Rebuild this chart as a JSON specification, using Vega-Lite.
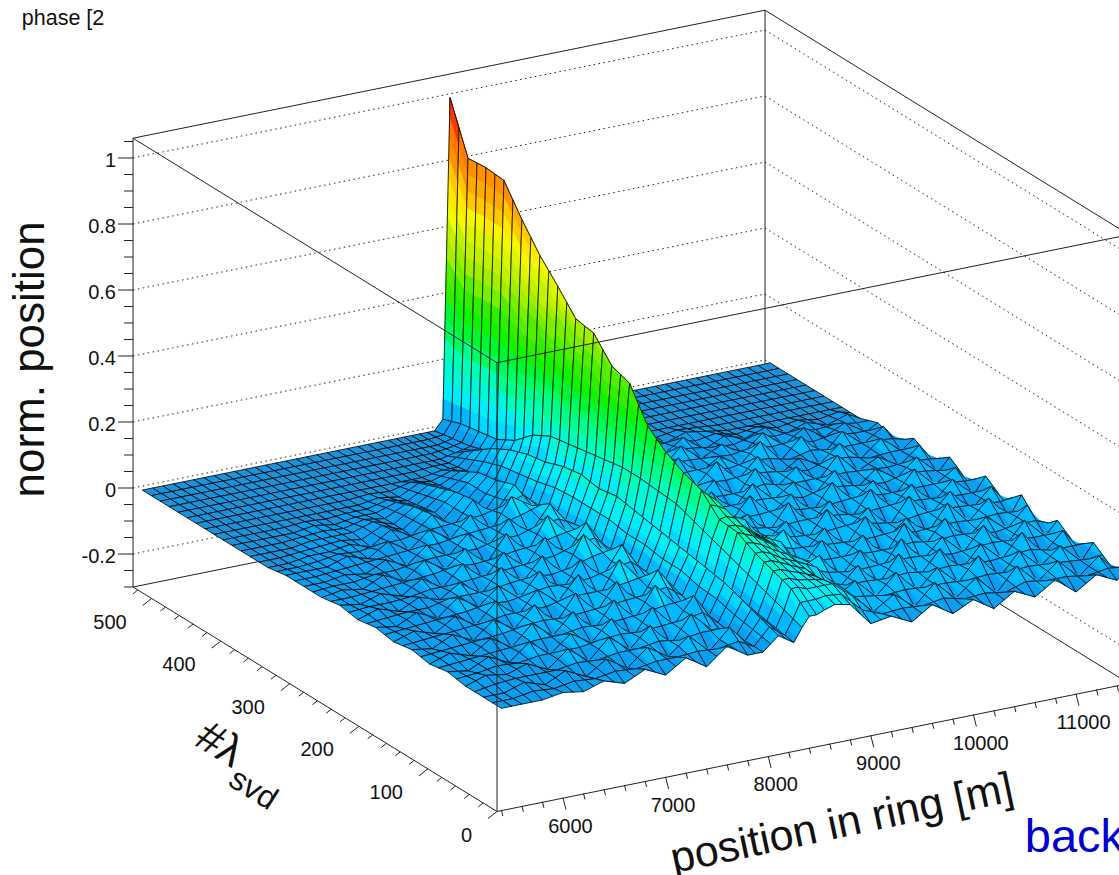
{"$schema":"https://vega.github.io/schema/vega-lite/v6.json","width":1119,"height":875,"padding":0,"autosize":{"type":"none"},"background":"white","config":{"view":{"stroke":null}},
"datasets":{
"grid":[
{"p":11520,"s":520,"z":0},{"p":11400,"s":520,"z":0},{"p":11200,"s":520,"z":0},{"p":11000,"s":520,"z":0},{"p":10800,"s":520,"z":0},{"p":10600,"s":520,"z":0},{"p":10400,"s":520,"z":0},{"p":10200,"s":520,"z":0},{"p":10000,"s":520,"z":0},{"p":9800,"s":520,"z":0},{"p":9600,"s":520,"z":0},{"p":9400,"s":520,"z":0},{"p":9200,"s":520,"z":0},{"p":9000,"s":520,"z":0},{"p":8800,"s":520,"z":0},{"p":8650,"s":520,"z":0},{"p":8550,"s":520,"z":0},{"p":8470,"s":520,"z":0.1},{"p":8400,"s":520,"z":1},{"p":8330,"s":520,"z":0.03},{"p":8250,"s":520,"z":0},{"p":8100,"s":520,"z":0},{"p":7950,"s":520,"z":0},{"p":7800,"s":520,"z":0},{"p":7600,"s":520,"z":0},{"p":7400,"s":520,"z":0},{"p":7200,"s":520,"z":0},{"p":7000,"s":520,"z":0},{"p":6800,"s":520,"z":0},{"p":6600,"s":520,"z":0},{"p":6400,"s":520,"z":0},{"p":6200,"s":520,"z":0},{"p":6000,"s":520,"z":0},{"p":5800,"s":520,"z":0},{"p":5600,"s":520,"z":0},{"p":5400,"s":520,"z":0},
{"p":11520,"s":494,"z":0},{"p":11400,"s":494,"z":0},{"p":11200,"s":494,"z":0},{"p":11000,"s":494,"z":0},{"p":10800,"s":494,"z":0},{"p":10600,"s":494,"z":0},{"p":10400,"s":494,"z":0},{"p":10200,"s":494,"z":0},{"p":10000,"s":494,"z":0},{"p":9800,"s":494,"z":0},{"p":9600,"s":494,"z":0},{"p":9400,"s":494,"z":0},{"p":9200,"s":494,"z":0},{"p":9000,"s":494,"z":0},{"p":8800,"s":494,"z":0},{"p":8650,"s":494,"z":0},{"p":8550,"s":494,"z":0},{"p":8470,"s":494,"z":0.3},{"p":8400,"s":494,"z":0.85},{"p":8330,"s":494,"z":0.05},{"p":8250,"s":494,"z":0.01},{"p":8100,"s":494,"z":0},{"p":7950,"s":494,"z":0},{"p":7800,"s":494,"z":0},{"p":7600,"s":494,"z":0},{"p":7400,"s":494,"z":0},{"p":7200,"s":494,"z":0},{"p":7000,"s":494,"z":0},{"p":6800,"s":494,"z":0},{"p":6600,"s":494,"z":0},{"p":6400,"s":494,"z":0},{"p":6200,"s":494,"z":0},{"p":6000,"s":494,"z":0},{"p":5800,"s":494,"z":0},{"p":5600,"s":494,"z":0},{"p":5400,"s":494,"z":0},
{"p":11520,"s":468,"z":0},{"p":11400,"s":468,"z":0},{"p":11200,"s":468,"z":0},{"p":11000,"s":468,"z":0},{"p":10800,"s":468,"z":0},{"p":10600,"s":468,"z":0},{"p":10400,"s":468,"z":0},{"p":10200,"s":468,"z":0},{"p":10000,"s":468,"z":0},{"p":9800,"s":468,"z":0},{"p":9600,"s":468,"z":0},{"p":9400,"s":468,"z":0},{"p":9200,"s":468,"z":0},{"p":9000,"s":468,"z":0},{"p":8800,"s":468,"z":0},{"p":8650,"s":468,"z":0},{"p":8550,"s":468,"z":0.02},{"p":8470,"s":468,"z":0.35},{"p":8400,"s":468,"z":0.855},{"p":8330,"s":468,"z":0.06},{"p":8250,"s":468,"z":0.02},{"p":8100,"s":468,"z":0.01},{"p":7950,"s":468,"z":0},{"p":7800,"s":468,"z":0},{"p":7600,"s":468,"z":0},{"p":7400,"s":468,"z":0},{"p":7200,"s":468,"z":0},{"p":7000,"s":468,"z":0},{"p":6800,"s":468,"z":0},{"p":6600,"s":468,"z":0},{"p":6400,"s":468,"z":0},{"p":6200,"s":468,"z":0},{"p":6000,"s":468,"z":0},{"p":5800,"s":468,"z":0},{"p":5600,"s":468,"z":0},{"p":5400,"s":468,"z":0},
{"p":11520,"s":442,"z":0},{"p":11400,"s":442,"z":0},{"p":11200,"s":442,"z":0},{"p":11000,"s":442,"z":0},{"p":10800,"s":442,"z":0},{"p":10600,"s":442,"z":0},{"p":10400,"s":442,"z":0},{"p":10200,"s":442,"z":0},{"p":10000,"s":442,"z":0},{"p":9800,"s":442,"z":0},{"p":9600,"s":442,"z":0},{"p":9400,"s":442,"z":0},{"p":9200,"s":442,"z":0},{"p":9000,"s":442,"z":0},{"p":8800,"s":442,"z":0},{"p":8650,"s":442,"z":0.01},{"p":8550,"s":442,"z":0.05},{"p":8470,"s":442,"z":0.4},{"p":8400,"s":442,"z":0.85},{"p":8330,"s":442,"z":0.07},{"p":8250,"s":442,"z":0.04},{"p":8100,"s":442,"z":0.05},{"p":7950,"s":442,"z":0.01},{"p":7800,"s":442,"z":0.01},{"p":7600,"s":442,"z":0},{"p":7400,"s":442,"z":0},{"p":7200,"s":442,"z":0},{"p":7000,"s":442,"z":0},{"p":6800,"s":442,"z":0},{"p":6600,"s":442,"z":0},{"p":6400,"s":442,"z":0},{"p":6200,"s":442,"z":0},{"p":6000,"s":442,"z":0},{"p":5800,"s":442,"z":0},{"p":5600,"s":442,"z":0},{"p":5400,"s":442,"z":0},
{"p":11520,"s":416,"z":0},{"p":11400,"s":416,"z":0},{"p":11200,"s":416,"z":0},{"p":11000,"s":416,"z":0},{"p":10800,"s":416,"z":0},{"p":10600,"s":416,"z":0},{"p":10400,"s":416,"z":0},{"p":10200,"s":416,"z":0.01},{"p":10000,"s":416,"z":0.02},{"p":9800,"s":416,"z":0},{"p":9600,"s":416,"z":0.03},{"p":9400,"s":416,"z":0.01},{"p":9200,"s":416,"z":0.02},{"p":9000,"s":416,"z":0.04},{"p":8800,"s":416,"z":0.02},{"p":8650,"s":416,"z":0.03},{"p":8550,"s":416,"z":0.08},{"p":8470,"s":416,"z":0.42},{"p":8400,"s":416,"z":0.765},{"p":8330,"s":416,"z":0.1},{"p":8250,"s":416,"z":0.05},{"p":8100,"s":416,"z":0.09},{"p":7950,"s":416,"z":0.02},{"p":7800,"s":416,"z":0.04},{"p":7600,"s":416,"z":0.01},{"p":7400,"s":416,"z":0.03},{"p":7200,"s":416,"z":0},{"p":7000,"s":416,"z":0.01},{"p":6800,"s":416,"z":0},{"p":6600,"s":416,"z":0},{"p":6400,"s":416,"z":0},{"p":6200,"s":416,"z":0},{"p":6000,"s":416,"z":0},{"p":5800,"s":416,"z":0},{"p":5600,"s":416,"z":0},{"p":5400,"s":416,"z":0},
{"p":11520,"s":390,"z":0},{"p":11400,"s":390,"z":0.02},{"p":11200,"s":390,"z":0},{"p":11000,"s":390,"z":0.02},{"p":10800,"s":390,"z":0},{"p":10600,"s":390,"z":0.03},{"p":10400,"s":390,"z":0.01},{"p":10200,"s":390,"z":0.03},{"p":10000,"s":390,"z":0},{"p":9800,"s":390,"z":0.05},{"p":9600,"s":390,"z":0.01},{"p":9400,"s":390,"z":0.05},{"p":9200,"s":390,"z":0.01},{"p":9000,"s":390,"z":0.06},{"p":8800,"s":390,"z":0.03},{"p":8650,"s":390,"z":0.06},{"p":8550,"s":390,"z":0.1},{"p":8470,"s":390,"z":0.42},{"p":8400,"s":390,"z":0.69},{"p":8330,"s":390,"z":0.15},{"p":8250,"s":390,"z":0.05},{"p":8100,"s":390,"z":0.12},{"p":7950,"s":390,"z":0.03},{"p":7800,"s":390,"z":0.07},{"p":7600,"s":390,"z":0.02},{"p":7400,"s":390,"z":0.05},{"p":7200,"s":390,"z":0.01},{"p":7000,"s":390,"z":0.03},{"p":6800,"s":390,"z":0.01},{"p":6600,"s":390,"z":0.01},{"p":6400,"s":390,"z":0},{"p":6200,"s":390,"z":0.01},{"p":6000,"s":390,"z":0},{"p":5800,"s":390,"z":0},{"p":5600,"s":390,"z":0},{"p":5400,"s":390,"z":0},
{"p":11520,"s":364,"z":0.02},{"p":11400,"s":364,"z":0},{"p":11200,"s":364,"z":0.04},{"p":11000,"s":364,"z":0.01},{"p":10800,"s":364,"z":0.05},{"p":10600,"s":364,"z":0.01},{"p":10400,"s":364,"z":0.06},{"p":10200,"s":364,"z":0.01},{"p":10000,"s":364,"z":0.05},{"p":9800,"s":364,"z":0.02},{"p":9600,"s":364,"z":0.07},{"p":9400,"s":364,"z":0.01},{"p":9200,"s":364,"z":0.08},{"p":9000,"s":364,"z":0.02},{"p":8800,"s":364,"z":0.06},{"p":8650,"s":364,"z":0.09},{"p":8550,"s":364,"z":0.12},{"p":8470,"s":364,"z":0.42},{"p":8400,"s":364,"z":0.63},{"p":8330,"s":364,"z":0.18},{"p":8250,"s":364,"z":0.06},{"p":8100,"s":364,"z":0.14},{"p":7950,"s":364,"z":0.03},{"p":7800,"s":364,"z":0.08},{"p":7600,"s":364,"z":0.01},{"p":7400,"s":364,"z":0.07},{"p":7200,"s":364,"z":0.02},{"p":7000,"s":364,"z":0.05},{"p":6800,"s":364,"z":0.01},{"p":6600,"s":364,"z":0.03},{"p":6400,"s":364,"z":0.01},{"p":6200,"s":364,"z":0.01},{"p":6000,"s":364,"z":0.01},{"p":5800,"s":364,"z":0},{"p":5600,"s":364,"z":0},{"p":5400,"s":364,"z":0},
{"p":11520,"s":338,"z":0},{"p":11400,"s":338,"z":0.05},{"p":11200,"s":338,"z":0.01},{"p":11000,"s":338,"z":0.06},{"p":10800,"s":338,"z":0},{"p":10600,"s":338,"z":0.07},{"p":10400,"s":338,"z":0.01},{"p":10200,"s":338,"z":0.08},{"p":10000,"s":338,"z":0.02},{"p":9800,"s":338,"z":0.06},{"p":9600,"s":338,"z":0.02},{"p":9400,"s":338,"z":0.08},{"p":9200,"s":338,"z":0.02},{"p":9000,"s":338,"z":0.09},{"p":8800,"s":338,"z":0.07},{"p":8650,"s":338,"z":0.1},{"p":8550,"s":338,"z":0.15},{"p":8470,"s":338,"z":0.4},{"p":8400,"s":338,"z":0.565},{"p":8330,"s":338,"z":0.19},{"p":8250,"s":338,"z":0.07},{"p":8100,"s":338,"z":0.15},{"p":7950,"s":338,"z":0.04},{"p":7800,"s":338,"z":0.1},{"p":7600,"s":338,"z":0.02},{"p":7400,"s":338,"z":0.08},{"p":7200,"s":338,"z":0.01},{"p":7000,"s":338,"z":0.06},{"p":6800,"s":338,"z":0.01},{"p":6600,"s":338,"z":0.04},{"p":6400,"s":338,"z":0},{"p":6200,"s":338,"z":0.02},{"p":6000,"s":338,"z":0.01},{"p":5800,"s":338,"z":0.01},{"p":5600,"s":338,"z":0},{"p":5400,"s":338,"z":0},
{"p":11520,"s":312,"z":0.04},{"p":11400,"s":312,"z":0.01},{"p":11200,"s":312,"z":0.06},{"p":11000,"s":312,"z":0.01},{"p":10800,"s":312,"z":0.07},{"p":10600,"s":312,"z":0.02},{"p":10400,"s":312,"z":0.05},{"p":10200,"s":312,"z":0.01},{"p":10000,"s":312,"z":0.08},{"p":9800,"s":312,"z":0.02},{"p":9600,"s":312,"z":0.09},{"p":9400,"s":312,"z":0.03},{"p":9200,"s":312,"z":0.07},{"p":9000,"s":312,"z":0.04},{"p":8800,"s":312,"z":0.1},{"p":8650,"s":312,"z":0.12},{"p":8550,"s":312,"z":0.18},{"p":8470,"s":312,"z":0.38},{"p":8400,"s":312,"z":0.555},{"p":8330,"s":312,"z":0.2},{"p":8250,"s":312,"z":0.08},{"p":8100,"s":312,"z":0.17},{"p":7950,"s":312,"z":0.05},{"p":7800,"s":312,"z":0.07},{"p":7600,"s":312,"z":0.11},{"p":7400,"s":312,"z":0.02},{"p":7200,"s":312,"z":0.08},{"p":7000,"s":312,"z":0.02},{"p":6800,"s":312,"z":0.06},{"p":6600,"s":312,"z":0.01},{"p":6400,"s":312,"z":0.05},{"p":6200,"s":312,"z":0.01},{"p":6000,"s":312,"z":0.03},{"p":5800,"s":312,"z":0.01},{"p":5600,"s":312,"z":0.01},{"p":5400,"s":312,"z":0.01},
{"p":11520,"s":286,"z":0.01},{"p":11400,"s":286,"z":0.06},{"p":11200,"s":286,"z":0.01},{"p":11000,"s":286,"z":0.05},{"p":10800,"s":286,"z":0.02},{"p":10600,"s":286,"z":0.08},{"p":10400,"s":286,"z":0.01},{"p":10200,"s":286,"z":0.07},{"p":10000,"s":286,"z":0.02},{"p":9800,"s":286,"z":0.09},{"p":9600,"s":286,"z":0.01},{"p":9400,"s":286,"z":0.08},{"p":9200,"s":286,"z":0.02},{"p":9000,"s":286,"z":0.1},{"p":8800,"s":286,"z":0.12},{"p":8650,"s":286,"z":0.14},{"p":8550,"s":286,"z":0.2},{"p":8470,"s":286,"z":0.36},{"p":8400,"s":286,"z":0.49},{"p":8330,"s":286,"z":0.21},{"p":8250,"s":286,"z":0.09},{"p":8100,"s":286,"z":0.18},{"p":7950,"s":286,"z":0.05},{"p":7800,"s":286,"z":0.11},{"p":7600,"s":286,"z":0.03},{"p":7400,"s":286,"z":0.09},{"p":7200,"s":286,"z":0.02},{"p":7000,"s":286,"z":0.07},{"p":6800,"s":286,"z":0.01},{"p":6600,"s":286,"z":0.06},{"p":6400,"s":286,"z":0.01},{"p":6200,"s":286,"z":0.04},{"p":6000,"s":286,"z":0.01},{"p":5800,"s":286,"z":0.02},{"p":5600,"s":286,"z":0.01},{"p":5400,"s":286,"z":0.01},
{"p":11520,"s":260,"z":0.05},{"p":11400,"s":260,"z":0.01},{"p":11200,"s":260,"z":0.07},{"p":11000,"s":260,"z":0.02},{"p":10800,"s":260,"z":0.06},{"p":10600,"s":260,"z":0.01},{"p":10400,"s":260,"z":0.08},{"p":10200,"s":260,"z":0.02},{"p":10000,"s":260,"z":0.07},{"p":9800,"s":260,"z":0.03},{"p":9600,"s":260,"z":0.09},{"p":9400,"s":260,"z":0.02},{"p":9200,"s":260,"z":0.09},{"p":9000,"s":260,"z":0.05},{"p":8800,"s":260,"z":0.13},{"p":8650,"s":260,"z":0.15},{"p":8550,"s":260,"z":0.22},{"p":8470,"s":260,"z":0.33},{"p":8400,"s":260,"z":0.47},{"p":8330,"s":260,"z":0.22},{"p":8250,"s":260,"z":0.1},{"p":8100,"s":260,"z":0.17},{"p":7950,"s":260,"z":0.06},{"p":7800,"s":260,"z":0.05},{"p":7600,"s":260,"z":0.12},{"p":7400,"s":260,"z":0.02},{"p":7200,"s":260,"z":0.09},{"p":7000,"s":260,"z":0.01},{"p":6800,"s":260,"z":0.07},{"p":6600,"s":260,"z":0.02},{"p":6400,"s":260,"z":0.06},{"p":6200,"s":260,"z":0.01},{"p":6000,"s":260,"z":0.04},{"p":5800,"s":260,"z":0.01},{"p":5600,"s":260,"z":0.02},{"p":5400,"s":260,"z":0.01},
{"p":11520,"s":234,"z":0.01},{"p":11400,"s":234,"z":0.06},{"p":11200,"s":234,"z":0.02},{"p":11000,"s":234,"z":0.08},{"p":10800,"s":234,"z":0.01},{"p":10600,"s":234,"z":0.07},{"p":10400,"s":234,"z":0.02},{"p":10200,"s":234,"z":0.09},{"p":10000,"s":234,"z":0.01},{"p":9800,"s":234,"z":0.08},{"p":9600,"s":234,"z":0.03},{"p":9400,"s":234,"z":0.1},{"p":9200,"s":234,"z":0.03},{"p":9000,"s":234,"z":0.11},{"p":8800,"s":234,"z":0.12},{"p":8650,"s":234,"z":0.17},{"p":8550,"s":234,"z":0.23},{"p":8470,"s":234,"z":0.3},{"p":8400,"s":234,"z":0.375},{"p":8330,"s":234,"z":0.22},{"p":8250,"s":234,"z":0.1},{"p":8100,"s":234,"z":0.18},{"p":7950,"s":234,"z":0.05},{"p":7800,"s":234,"z":0.12},{"p":7600,"s":234,"z":0.03},{"p":7400,"s":234,"z":0.1},{"p":7200,"s":234,"z":0.02},{"p":7000,"s":234,"z":0.08},{"p":6800,"s":234,"z":0.01},{"p":6600,"s":234,"z":0.07},{"p":6400,"s":234,"z":0.01},{"p":6200,"s":234,"z":0.05},{"p":6000,"s":234,"z":0.01},{"p":5800,"s":234,"z":0.03},{"p":5600,"s":234,"z":0.01},{"p":5400,"s":234,"z":0.02},
{"p":11520,"s":208,"z":0.06},{"p":11400,"s":208,"z":0.01},{"p":11200,"s":208,"z":0.07},{"p":11000,"s":208,"z":0.01},{"p":10800,"s":208,"z":0.08},{"p":10600,"s":208,"z":0.02},{"p":10400,"s":208,"z":0.09},{"p":10200,"s":208,"z":0.01},{"p":10000,"s":208,"z":0.08},{"p":9800,"s":208,"z":0.02},{"p":9600,"s":208,"z":0.1},{"p":9400,"s":208,"z":0.02},{"p":9200,"s":208,"z":0.09},{"p":9000,"s":208,"z":0.06},{"p":8800,"s":208,"z":0.14},{"p":8650,"s":208,"z":0.18},{"p":8550,"s":208,"z":0.24},{"p":8470,"s":208,"z":0.29},{"p":8400,"s":208,"z":0.33},{"p":8330,"s":208,"z":0.215},{"p":8250,"s":208,"z":0.11},{"p":8100,"s":208,"z":0.17},{"p":7950,"s":208,"z":0.04},{"p":7800,"s":208,"z":0.06},{"p":7600,"s":208,"z":0.13},{"p":7400,"s":208,"z":0.02},{"p":7200,"s":208,"z":0.09},{"p":7000,"s":208,"z":0.02},{"p":6800,"s":208,"z":0.08},{"p":6600,"s":208,"z":0.01},{"p":6400,"s":208,"z":0.06},{"p":6200,"s":208,"z":0.02},{"p":6000,"s":208,"z":0.04},{"p":5800,"s":208,"z":0.01},{"p":5600,"s":208,"z":0.03},{"p":5400,"s":208,"z":0.01},
{"p":11520,"s":182,"z":0.02},{"p":11400,"s":182,"z":0.07},{"p":11200,"s":182,"z":0.01},{"p":11000,"s":182,"z":0.08},{"p":10800,"s":182,"z":0.02},{"p":10600,"s":182,"z":0.09},{"p":10400,"s":182,"z":0.01},{"p":10200,"s":182,"z":0.08},{"p":10000,"s":182,"z":0.03},{"p":9800,"s":182,"z":0.1},{"p":9600,"s":182,"z":0.02},{"p":9400,"s":182,"z":0.09},{"p":9200,"s":182,"z":0.04},{"p":9000,"s":182,"z":0.12},{"p":8800,"s":182,"z":0.15},{"p":8650,"s":182,"z":0.19},{"p":8550,"s":182,"z":0.24},{"p":8470,"s":182,"z":0.27},{"p":8400,"s":182,"z":0.3},{"p":8330,"s":182,"z":0.21},{"p":8250,"s":182,"z":0.1},{"p":8100,"s":182,"z":0.16},{"p":7950,"s":182,"z":0.05},{"p":7800,"s":182,"z":0.12},{"p":7600,"s":182,"z":0.03},{"p":7400,"s":182,"z":0.1},{"p":7200,"s":182,"z":0.01},{"p":7000,"s":182,"z":0.09},{"p":6800,"s":182,"z":0.02},{"p":6600,"s":182,"z":0.07},{"p":6400,"s":182,"z":0.02},{"p":6200,"s":182,"z":0.06},{"p":6000,"s":182,"z":0.01},{"p":5800,"s":182,"z":0.04},{"p":5600,"s":182,"z":0.01},{"p":5400,"s":182,"z":0.02},
{"p":11520,"s":156,"z":0.07},{"p":11400,"s":156,"z":0.01},{"p":11200,"s":156,"z":0.08},{"p":11000,"s":156,"z":0.02},{"p":10800,"s":156,"z":0.09},{"p":10600,"s":156,"z":0.01},{"p":10400,"s":156,"z":0.07},{"p":10200,"s":156,"z":0.02},{"p":10000,"s":156,"z":0.1},{"p":9800,"s":156,"z":0.02},{"p":9600,"s":156,"z":0.09},{"p":9400,"s":156,"z":0.03},{"p":9200,"s":156,"z":0.11},{"p":9000,"s":156,"z":0.06},{"p":8800,"s":156,"z":0.15},{"p":8650,"s":156,"z":0.19},{"p":8550,"s":156,"z":0.24},{"p":8470,"s":156,"z":0.26},{"p":8400,"s":156,"z":0.28},{"p":8330,"s":156,"z":0.19},{"p":8250,"s":156,"z":0.09},{"p":8100,"s":156,"z":0.15},{"p":7950,"s":156,"z":0.04},{"p":7800,"s":156,"z":0.05},{"p":7600,"s":156,"z":0.12},{"p":7400,"s":156,"z":0.02},{"p":7200,"s":156,"z":0.1},{"p":7000,"s":156,"z":0.03},{"p":6800,"s":156,"z":0.08},{"p":6600,"s":156,"z":0.01},{"p":6400,"s":156,"z":0.07},{"p":6200,"s":156,"z":0.01},{"p":6000,"s":156,"z":0.05},{"p":5800,"s":156,"z":0.01},{"p":5600,"s":156,"z":0.03},{"p":5400,"s":156,"z":0.01},
{"p":11520,"s":130,"z":0.01},{"p":11400,"s":130,"z":0.08},{"p":11200,"s":130,"z":0.02},{"p":11000,"s":130,"z":0.07},{"p":10800,"s":130,"z":0.01},{"p":10600,"s":130,"z":0.09},{"p":10400,"s":130,"z":0.02},{"p":10200,"s":130,"z":0.1},{"p":10000,"s":130,"z":0.01},{"p":9800,"s":130,"z":0.09},{"p":9600,"s":130,"z":0.03},{"p":9400,"s":130,"z":0.1},{"p":9200,"s":130,"z":0.03},{"p":9000,"s":130,"z":0.12},{"p":8800,"s":130,"z":0.15},{"p":8650,"s":130,"z":0.18},{"p":8550,"s":130,"z":0.22},{"p":8470,"s":130,"z":0.23},{"p":8400,"s":130,"z":0.225},{"p":8330,"s":130,"z":0.17},{"p":8250,"s":130,"z":0.08},{"p":8100,"s":130,"z":0.14},{"p":7950,"s":130,"z":0.05},{"p":7800,"s":130,"z":0.11},{"p":7600,"s":130,"z":0.02},{"p":7400,"s":130,"z":0.1},{"p":7200,"s":130,"z":0.02},{"p":7000,"s":130,"z":0.09},{"p":6800,"s":130,"z":0.01},{"p":6600,"s":130,"z":0.08},{"p":6400,"s":130,"z":0.02},{"p":6200,"s":130,"z":0.06},{"p":6000,"s":130,"z":0.01},{"p":5800,"s":130,"z":0.04},{"p":5600,"s":130,"z":0.01},{"p":5400,"s":130,"z":0.02},
{"p":11520,"s":104,"z":0.06},{"p":11400,"s":104,"z":0.02},{"p":11200,"s":104,"z":0.08},{"p":11000,"s":104,"z":0.01},{"p":10800,"s":104,"z":0.09},{"p":10600,"s":104,"z":0.02},{"p":10400,"s":104,"z":0.08},{"p":10200,"s":104,"z":0.02},{"p":10000,"s":104,"z":0.1},{"p":9800,"s":104,"z":0.02},{"p":9600,"s":104,"z":0.09},{"p":9400,"s":104,"z":0.02},{"p":9200,"s":104,"z":0.1},{"p":9000,"s":104,"z":0.07},{"p":8800,"s":104,"z":0.15},{"p":8650,"s":104,"z":0.18},{"p":8550,"s":104,"z":0.2},{"p":8470,"s":104,"z":0.21},{"p":8400,"s":104,"z":0.22},{"p":8330,"s":104,"z":0.15},{"p":8250,"s":104,"z":0.07},{"p":8100,"s":104,"z":0.13},{"p":7950,"s":104,"z":0.03},{"p":7800,"s":104,"z":0.04},{"p":7600,"s":104,"z":0.11},{"p":7400,"s":104,"z":0.02},{"p":7200,"s":104,"z":0.09},{"p":7000,"s":104,"z":0.01},{"p":6800,"s":104,"z":0.08},{"p":6600,"s":104,"z":0.02},{"p":6400,"s":104,"z":0.07},{"p":6200,"s":104,"z":0.01},{"p":6000,"s":104,"z":0.05},{"p":5800,"s":104,"z":0.01},{"p":5600,"s":104,"z":0.03},{"p":5400,"s":104,"z":0.01},
{"p":11520,"s":78,"z":0.02},{"p":11400,"s":78,"z":0.07},{"p":11200,"s":78,"z":0.01},{"p":11000,"s":78,"z":0.09},{"p":10800,"s":78,"z":0.02},{"p":10600,"s":78,"z":0.08},{"p":10400,"s":78,"z":0.01},{"p":10200,"s":78,"z":0.09},{"p":10000,"s":78,"z":0.02},{"p":9800,"s":78,"z":0.1},{"p":9600,"s":78,"z":0.02},{"p":9400,"s":78,"z":0.09},{"p":9200,"s":78,"z":0.03},{"p":9000,"s":78,"z":0.11},{"p":8800,"s":78,"z":0.14},{"p":8650,"s":78,"z":0.16},{"p":8550,"s":78,"z":0.18},{"p":8470,"s":78,"z":0.19},{"p":8400,"s":78,"z":0.19},{"p":8330,"s":78,"z":0.13},{"p":8250,"s":78,"z":0.06},{"p":8100,"s":78,"z":0.12},{"p":7950,"s":78,"z":0.03},{"p":7800,"s":78,"z":0.1},{"p":7600,"s":78,"z":0.02},{"p":7400,"s":78,"z":0.09},{"p":7200,"s":78,"z":0.01},{"p":7000,"s":78,"z":0.08},{"p":6800,"s":78,"z":0.02},{"p":6600,"s":78,"z":0.06},{"p":6400,"s":78,"z":0.01},{"p":6200,"s":78,"z":0.06},{"p":6000,"s":78,"z":0.01},{"p":5800,"s":78,"z":0.04},{"p":5600,"s":78,"z":0.01},{"p":5400,"s":78,"z":0.02},
{"p":11520,"s":52,"z":0.06},{"p":11400,"s":52,"z":0.01},{"p":11200,"s":52,"z":0.07},{"p":11000,"s":52,"z":0.02},{"p":10800,"s":52,"z":0.08},{"p":10600,"s":52,"z":0.01},{"p":10400,"s":52,"z":0.09},{"p":10200,"s":52,"z":0.02},{"p":10000,"s":52,"z":0.08},{"p":9800,"s":52,"z":0.02},{"p":9600,"s":52,"z":0.09},{"p":9400,"s":52,"z":0.03},{"p":9200,"s":52,"z":0.09},{"p":9000,"s":52,"z":0.05},{"p":8800,"s":52,"z":0.13},{"p":8650,"s":52,"z":0.15},{"p":8550,"s":52,"z":0.16},{"p":8470,"s":52,"z":0.17},{"p":8400,"s":52,"z":0.17},{"p":8330,"s":52,"z":0.11},{"p":8250,"s":52,"z":0.05},{"p":8100,"s":52,"z":0.1},{"p":7950,"s":52,"z":0.02},{"p":7800,"s":52,"z":0.03},{"p":7600,"s":52,"z":0.09},{"p":7400,"s":52,"z":0.01},{"p":7200,"s":52,"z":0.08},{"p":7000,"s":52,"z":0.02},{"p":6800,"s":52,"z":0.07},{"p":6600,"s":52,"z":0.01},{"p":6400,"s":52,"z":0.06},{"p":6200,"s":52,"z":0.01},{"p":6000,"s":52,"z":0.04},{"p":5800,"s":52,"z":0.02},{"p":5600,"s":52,"z":0.03},{"p":5400,"s":52,"z":0.01},
{"p":11520,"s":26,"z":0.02},{"p":11400,"s":26,"z":0.06},{"p":11200,"s":26,"z":0.01},{"p":11000,"s":26,"z":0.07},{"p":10800,"s":26,"z":0.02},{"p":10600,"s":26,"z":0.08},{"p":10400,"s":26,"z":0.01},{"p":10200,"s":26,"z":0.07},{"p":10000,"s":26,"z":0.02},{"p":9800,"s":26,"z":0.08},{"p":9600,"s":26,"z":0.02},{"p":9400,"s":26,"z":0.07},{"p":9200,"s":26,"z":0.03},{"p":9000,"s":26,"z":0.09},{"p":8800,"s":26,"z":0.14},{"p":8650,"s":26,"z":0.14},{"p":8550,"s":26,"z":0.14},{"p":8470,"s":26,"z":0.15},{"p":8400,"s":26,"z":0.15},{"p":8330,"s":26,"z":0.09},{"p":8250,"s":26,"z":0.04},{"p":8100,"s":26,"z":0.08},{"p":7950,"s":26,"z":0.02},{"p":7800,"s":26,"z":0.07},{"p":7600,"s":26,"z":0.01},{"p":7400,"s":26,"z":0.07},{"p":7200,"s":26,"z":0.02},{"p":7000,"s":26,"z":0.06},{"p":6800,"s":26,"z":0.01},{"p":6600,"s":26,"z":0.05},{"p":6400,"s":26,"z":0.01},{"p":6200,"s":26,"z":0.04},{"p":6000,"s":26,"z":0.01},{"p":5800,"s":26,"z":0.03},{"p":5600,"s":26,"z":0.01},{"p":5400,"s":26,"z":0.01},
{"p":11520,"s":0,"z":0.05},{"p":11400,"s":0,"z":0.02},{"p":11200,"s":0,"z":0.05},{"p":11000,"s":0,"z":0.01},{"p":10800,"s":0,"z":0.06},{"p":10600,"s":0,"z":0.02},{"p":10400,"s":0,"z":0.05},{"p":10200,"s":0,"z":0.01},{"p":10000,"s":0,"z":0.05},{"p":9800,"s":0,"z":0.02},{"p":9600,"s":0,"z":0.06},{"p":9400,"s":0,"z":0.02},{"p":9200,"s":0,"z":0.05},{"p":9000,"s":0,"z":0.04},{"p":8800,"s":0,"z":0.11},{"p":8650,"s":0,"z":0.12},{"p":8550,"s":0,"z":0.11},{"p":8470,"s":0,"z":0.1},{"p":8400,"s":0,"z":0.1},{"p":8330,"s":0,"z":0.07},{"p":8250,"s":0,"z":0.03},{"p":8100,"s":0,"z":0.06},{"p":7950,"s":0,"z":0.02},{"p":7800,"s":0,"z":0.02},{"p":7600,"s":0,"z":0.06},{"p":7400,"s":0,"z":0.01},{"p":7200,"s":0,"z":0.05},{"p":7000,"s":0,"z":0.01},{"p":6800,"s":0,"z":0.04},{"p":6600,"s":0,"z":0.01},{"p":6400,"s":0,"z":0.03},{"p":6200,"s":0,"z":0.01},{"p":6000,"s":0,"z":0.02},{"p":5800,"s":0,"z":0.01},{"p":5600,"s":0,"z":0.01},{"p":5400,"s":0,"z":0.01}
],
"box":[
{"k":"back","p":5357,"s":527,"z":-0.3,"p2":11517,"s2":527,"z2":-0.3},
{"k":"back","p":11517,"s":527,"z":-0.3,"p2":11517,"s2":0,"z2":-0.3},
{"k":"back","p":11517,"s":527,"z":-0.3,"p2":11517,"s2":527,"z2":1.06},
{"k":"back","p":5357,"s":527,"z":1.06,"p2":11517,"s2":527,"z2":1.06},
{"k":"back","p":11517,"s":527,"z":1.06,"p2":11517,"s2":0,"z2":1.06},
{"k":"front","p":5357,"s":527,"z":1.06,"p2":5357,"s2":0,"z2":1.06},
{"k":"front","p":5357,"s":0,"z":1.06,"p2":11517,"s2":0,"z2":1.06},
{"k":"front","p":5357,"s":0,"z":-0.3,"p2":5357,"s2":0,"z2":1.06},
{"k":"front","p":5357,"s":527,"z":-0.3,"p2":5357,"s2":527,"z2":1.06},
{"k":"front","p":5357,"s":527,"z":-0.3,"p2":5357,"s2":0,"z2":-0.3},
{"k":"front","p":5357,"s":0,"z":-0.3,"p2":11517,"s2":0,"z2":-0.3},
{"k":"grid","p":5357,"s":527,"z":1,"p2":11517,"s2":527,"z2":1},{"k":"grid","p":11517,"s":527,"z":1,"p2":11517,"s2":0,"z2":1},
{"k":"grid","p":5357,"s":527,"z":0.8,"p2":11517,"s2":527,"z2":0.8},{"k":"grid","p":11517,"s":527,"z":0.8,"p2":11517,"s2":0,"z2":0.8},
{"k":"grid","p":5357,"s":527,"z":0.6,"p2":11517,"s2":527,"z2":0.6},{"k":"grid","p":11517,"s":527,"z":0.6,"p2":11517,"s2":0,"z2":0.6},
{"k":"grid","p":5357,"s":527,"z":0.4,"p2":11517,"s2":527,"z2":0.4},{"k":"grid","p":11517,"s":527,"z":0.4,"p2":11517,"s2":0,"z2":0.4},
{"k":"grid","p":5357,"s":527,"z":0.2,"p2":11517,"s2":527,"z2":0.2},{"k":"grid","p":11517,"s":527,"z":0.2,"p2":11517,"s2":0,"z2":0.2},
{"k":"grid","p":5357,"s":527,"z":0,"p2":11517,"s2":527,"z2":0},{"k":"grid","p":11517,"s":527,"z":0,"p2":11517,"s2":0,"z2":0},
{"k":"grid","p":5357,"s":527,"z":-0.2,"p2":11517,"s2":527,"z2":-0.2},{"k":"grid","p":11517,"s":527,"z":-0.2,"p2":11517,"s2":0,"z2":-0.2}
],
"zticks":[{"v":-0.3},{"v":-0.25},{"v":-0.2},{"v":-0.15},{"v":-0.1},{"v":-0.05},{"v":0},{"v":0.05},{"v":0.1},{"v":0.15},{"v":0.2},{"v":0.25},{"v":0.3},{"v":0.35},{"v":0.4},{"v":0.45},{"v":0.5},{"v":0.55},{"v":0.6},{"v":0.65},{"v":0.7},{"v":0.75},{"v":0.8},{"v":0.85},{"v":0.9},{"v":0.95},{"v":1},{"v":1.05}],
"sticks":[{"v":0},{"v":20},{"v":40},{"v":60},{"v":80},{"v":100},{"v":120},{"v":140},{"v":160},{"v":180},{"v":200},{"v":220},{"v":240},{"v":260},{"v":280},{"v":300},{"v":320},{"v":340},{"v":360},{"v":380},{"v":400},{"v":420},{"v":440},{"v":460},{"v":480},{"v":500},{"v":520}],
"pticks":[{"v":5400},{"v":5600},{"v":5800},{"v":6000},{"v":6200},{"v":6400},{"v":6600},{"v":6800},{"v":7000},{"v":7200},{"v":7400},{"v":7600},{"v":7800},{"v":8000},{"v":8200},{"v":8400},{"v":8600},{"v":8800},{"v":9000},{"v":9200},{"v":9400},{"v":9600},{"v":9800},{"v":10000},{"v":10200},{"v":10400},{"v":10600},{"v":10800},{"v":11000},{"v":11200},{"v":11400}]
},
"encoding":{"x":{"field":"X","type":"quantitative","axis":null,"scale":{"domain":[0,1119],"range":[0,1119],"nice":false,"zero":false}},"y":{"field":"Y","type":"quantitative","axis":null,"scale":{"domain":[0,875],"range":[0,875],"nice":false,"zero":false}}},
"layer":[
{"data":{"name":"box"},"transform":[{"filter":"datum.k=='grid'"},{"calculate":"133+364*(527-datum.s)/527+632*(datum.p-5357)/6160","as":"X"},{"calculate":"488+224.5*(527-datum.s)/527-128*(datum.p-5357)/6160-330*datum.z","as":"Y"},{"calculate":"133+364*(527-datum.s2)/527+632*(datum.p2-5357)/6160","as":"X2"},{"calculate":"488+224.5*(527-datum.s2)/527-128*(datum.p2-5357)/6160-330*datum.z2","as":"Y2"}],"mark":{"type":"rule","stroke":"#222","strokeWidth":1,"strokeDash":[1.5,3.5]},"encoding":{"x2":{"field":"X2"},"y2":{"field":"Y2"}}},
{"data":{"name":"box"},"transform":[{"filter":"datum.k=='back'"},{"calculate":"133+364*(527-datum.s)/527+632*(datum.p-5357)/6160","as":"X"},{"calculate":"488+224.5*(527-datum.s)/527-128*(datum.p-5357)/6160-330*datum.z","as":"Y"},{"calculate":"133+364*(527-datum.s2)/527+632*(datum.p2-5357)/6160","as":"X2"},{"calculate":"488+224.5*(527-datum.s2)/527-128*(datum.p2-5357)/6160-330*datum.z2","as":"Y2"}],"mark":{"type":"rule","stroke":"#222","strokeWidth":1},"encoding":{"x2":{"field":"X2"},"y2":{"field":"Y2"}}},
{"data":{"name":"grid"},"transform":[
{"window":[{"op":"lag","field":"z","as":"zp"},{"op":"lag","field":"p","as":"pp"}],"groupby":["s"],"sort":[{"field":"p","order":"ascending"}]},
{"window":[{"op":"lag","field":"z","as":"zs"},{"op":"lag","field":"zp","as":"zsp"}],"groupby":["p"],"sort":[{"field":"s","order":"ascending"}]},
{"filter":"isValid(datum.zp)&&isValid(datum.zs)"},
{"calculate":"max(datum.z,datum.zp,datum.zs,datum.zsp)-min(datum.z,datum.zp,datum.zs,datum.zsp)","as":"rng"},
{"calculate":"datum.rng>0.15?16:(datum.rng>0.03?3:1)","as":"n"},
{"calculate":"(datum.p-datum.pp)>=150?2:1","as":"nu"},
{"calculate":"[0,1]","as":"sva"},{"flatten":["sva"],"as":["sv"]},
{"calculate":"[0,1]","as":"sua"},{"flatten":["sua"],"as":["su"]},
{"filter":"datum.su<datum.nu"},
{"calculate":"[0,1,2,3,4,5,6,7,8,9,10,11,12,13,14,15,-1]","as":"ta"},{"flatten":["ta"],"as":["t"]},
{"filter":"datum.t<0?datum.n>1:datum.t<datum.n"},
{"calculate":"datum.su/datum.nu","as":"U0"},{"calculate":"(datum.su+1)/datum.nu","as":"U1"},{"calculate":"datum.sv/2","as":"V0"},{"calculate":"(datum.sv+1)/2","as":"V1"},
{"calculate":"datum.t<0?datum.U0:datum.U0+(datum.U1-datum.U0)*datum.t/datum.n","as":"ul"},
{"calculate":"datum.t<0?datum.U1:datum.U0+(datum.U1-datum.U0)*(datum.t+1)/datum.n","as":"ur"},
{"calculate":"(datum.ul+datum.ur)/2","as":"um"},{"calculate":"(datum.V0+datum.V1)/2","as":"vm"},
{"calculate":"datum.z*(1-datum.um)*(1-datum.vm)+datum.zp*datum.um*(1-datum.vm)+datum.zs*(1-datum.um)*datum.vm+datum.zsp*datum.um*datum.vm","as":"zc"},
{"calculate":"datum.t<0?'transparent':(datum.zc<0.004?'#1b93dc':['#0a9ef0','#00b8ff','#00d8ff','#00eef8','#00f8d8','#00ffb8','#00ff90','#00fc60','#00f830','#10f400','#30f000','#50f000','#78f000','#a0f000','#c0f200','#dcf600','#f4f800','#ffe800','#ffc800','#ffaa00','#ff9000','#ff7800','#ff5a00','#f03c00','#dc2000'][clamp(floor(datum.zc/0.04),0,24)])","as":"col"},
{"calculate":"(datum.t<0||datum.n==1)?'#000000':datum.col","as":"st"},
{"calculate":"'q'+datum.p+'_'+datum.s+'_'+datum.su+'_'+datum.sv+'_'+datum.t","as":"id"},
{"calculate":"[0,1,2,3]","as":"ca"},{"flatten":["ca"],"as":["c"]},
{"calculate":"(datum.c==0||datum.c==3)?datum.ul:datum.ur","as":"uu"},{"calculate":"datum.c<2?datum.V0:datum.V1","as":"vv"},
{"calculate":"datum.z*(1-datum.uu)*(1-datum.vv)+datum.zp*datum.uu*(1-datum.vv)+datum.zs*(1-datum.uu)*datum.vv+datum.zsp*datum.uu*datum.vv","as":"Z"},
{"calculate":"datum.p-(datum.p-datum.pp)*datum.uu","as":"P"},{"calculate":"datum.s-26*datum.vv","as":"S"},
{"calculate":"133+364*(527-datum.S)/527+632*(datum.P-5357)/6160","as":"X"},
{"calculate":"488+224.5*(527-datum.S)/527-128*(datum.P-5357)/6160-330*datum.Z","as":"Y"}
],"mark":{"type":"line","interpolate":"linear-closed","strokeWidth":0.8},"encoding":{"detail":{"field":"id","type":"nominal"},"order":{"field":"c","type":"quantitative"},"fill":{"field":"col","type":"nominal","scale":null},"stroke":{"field":"st","type":"nominal","scale":null}}},
{"data":{"name":"box"},"transform":[{"filter":"datum.k=='front'"},{"calculate":"133+364*(527-datum.s)/527+632*(datum.p-5357)/6160","as":"X"},{"calculate":"488+224.5*(527-datum.s)/527-128*(datum.p-5357)/6160-330*datum.z","as":"Y"},{"calculate":"133+364*(527-datum.s2)/527+632*(datum.p2-5357)/6160","as":"X2"},{"calculate":"488+224.5*(527-datum.s2)/527-128*(datum.p2-5357)/6160-330*datum.z2","as":"Y2"}],"mark":{"type":"rule","stroke":"#222","strokeWidth":1},"encoding":{"x2":{"field":"X2"},"y2":{"field":"Y2"}}},
{"data":{"name":"zticks"},"transform":[{"calculate":"abs(round(datum.v*5)-datum.v*5)<0.01","as":"maj"},{"calculate":"133","as":"X"},{"calculate":"488-330*datum.v","as":"Y"},{"calculate":"datum.maj?118:124","as":"X2"},{"calculate":"datum.Y","as":"Y2"}],"mark":{"type":"rule","stroke":"#222","strokeWidth":1},"encoding":{"x2":{"field":"X2"},"y2":{"field":"Y2"}}},
{"data":{"name":"sticks"},"transform":[{"calculate":"datum.v%100==0","as":"maj"},{"calculate":"133+364*(527-datum.v)/527","as":"X"},{"calculate":"587+224.5*(527-datum.v)/527","as":"Y"},{"calculate":"datum.X-(datum.maj?9:5)","as":"X2"},{"calculate":"datum.Y+(datum.maj?7:4)","as":"Y2"}],"mark":{"type":"rule","stroke":"#222","strokeWidth":1},"encoding":{"x2":{"field":"X2"},"y2":{"field":"Y2"}}},
{"data":{"name":"pticks"},"transform":[{"calculate":"datum.v%1000==0","as":"maj"},{"calculate":"497+632*(datum.v-5357)/6160","as":"X"},{"calculate":"811-128*(datum.v-5357)/6160","as":"Y"},{"calculate":"datum.X+(datum.maj?3:1.5)","as":"X2"},{"calculate":"datum.Y+(datum.maj?12:6)","as":"Y2"}],"mark":{"type":"rule","stroke":"#222","strokeWidth":1},"encoding":{"x2":{"field":"X2"},"y2":{"field":"Y2"}}},
{"data":{"name":"zticks"},"transform":[{"filter":"abs(round(datum.v*5)-datum.v*5)<0.01&&datum.v>-0.25"},{"calculate":"133","as":"X"},{"calculate":"488-330*datum.v","as":"Y"},{"calculate":"''+datum.v","as":"L"}],"mark":{"type":"text","font":"Liberation Sans","fontSize":20,"align":"right","baseline":"middle","dx":-17,"dy":3,"fill":"#111"},"encoding":{"text":{"field":"L"}}},
{"data":{"name":"sticks"},"transform":[{"filter":"datum.v%100==0"},{"calculate":"133+364*(527-datum.v)/527","as":"X"},{"calculate":"587+224.5*(527-datum.v)/527","as":"Y"},{"calculate":"''+datum.v","as":"L"}],"mark":{"type":"text","font":"Liberation Sans","fontSize":20,"align":"right","baseline":"middle","dx":-25,"dy":24,"fill":"#111"},"encoding":{"text":{"field":"L"}}},
{"data":{"name":"pticks"},"transform":[{"filter":"datum.v%1000==0"},{"calculate":"497+632*(datum.v-5357)/6160","as":"X"},{"calculate":"811-128*(datum.v-5357)/6160","as":"Y"},{"calculate":"''+datum.v","as":"L"}],"mark":{"type":"text","font":"Liberation Sans","fontSize":20,"align":"center","baseline":"middle","dx":7.5,"dy":29,"fill":"#111"},"encoding":{"text":{"field":"L"}}},
{"data":{"values":[{"t":"norm. position","p":5357,"s":674,"z":0.2}]},"transform":[{"calculate":"133+364*(527-datum.s)/527+632*(datum.p-5357)/6160","as":"X"},{"calculate":"488+224.5*(527-datum.s)/527-128*(datum.p-5357)/6160-330*datum.z","as":"Y"}],"mark":{"type":"text","font":"Liberation Sans","fontSize":44,"angle":270,"align":"center","baseline":"middle","fill":"#111"},"encoding":{"text":{"field":"t"}}},
{"data":{"values":[{"t":"#λ","p":5357,"s":402,"z":-0.618}]},"transform":[{"calculate":"133+364*(527-datum.s)/527+632*(datum.p-5357)/6160","as":"X"},{"calculate":"488+224.5*(527-datum.s)/527-128*(datum.p-5357)/6160-330*datum.z","as":"Y"}],"mark":{"type":"text","font":"Liberation Sans","fontSize":44,"angle":32,"align":"center","baseline":"middle","fill":"#111"},"encoding":{"text":{"field":"t"}}},
{"data":{"values":[{"t":"svd","p":5357,"s":353,"z":-0.688}]},"transform":[{"calculate":"133+364*(527-datum.s)/527+632*(datum.p-5357)/6160","as":"X"},{"calculate":"488+224.5*(527-datum.s)/527-128*(datum.p-5357)/6160-330*datum.z","as":"Y"}],"mark":{"type":"text","font":"Liberation Sans","fontSize":32,"angle":32,"align":"center","baseline":"middle","fill":"#111"},"encoding":{"text":{"field":"t"}}},
{"data":{"values":[{"t":"position in ring [m]","p":8720,"s":0,"z":-0.55}]},"transform":[{"calculate":"133+364*(527-datum.s)/527+632*(datum.p-5357)/6160","as":"X"},{"calculate":"488+224.5*(527-datum.s)/527-128*(datum.p-5357)/6160-330*datum.z","as":"Y"}],"mark":{"type":"text","font":"Liberation Sans","fontSize":43,"angle":348,"align":"center","baseline":"middle","fill":"#111"},"encoding":{"text":{"field":"t"}}},
{"data":{"values":[{"t":"back","p":10501,"s":0,"z":-0.747}]},"transform":[{"calculate":"133+364*(527-datum.s)/527+632*(datum.p-5357)/6160","as":"X"},{"calculate":"488+224.5*(527-datum.s)/527-128*(datum.p-5357)/6160-330*datum.z","as":"Y"}],"mark":{"type":"text","font":"Liberation Sans","fontSize":47,"align":"left","baseline":"alphabetic","fill":"#0000cc"},"encoding":{"text":{"field":"t"}}},
{"data":{"values":[{"t":"phase [2","p":5357,"s":688,"z":1.196}]},"transform":[{"calculate":"133+364*(527-datum.s)/527+632*(datum.p-5357)/6160","as":"X"},{"calculate":"488+224.5*(527-datum.s)/527-128*(datum.p-5357)/6160-330*datum.z","as":"Y"}],"mark":{"type":"text","font":"Liberation Sans","fontSize":21.5,"align":"left","baseline":"alphabetic","fill":"#111"},"encoding":{"text":{"field":"t"}}}
]}
